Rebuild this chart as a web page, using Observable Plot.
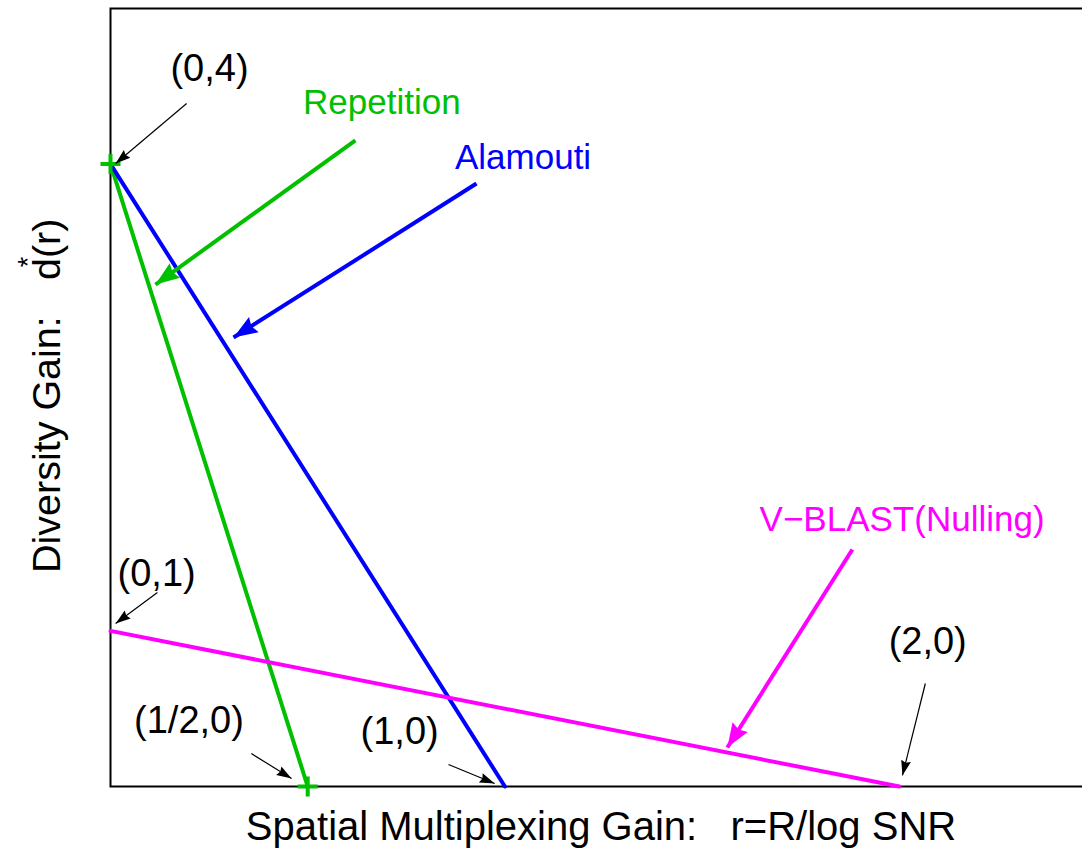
<!DOCTYPE html>
<html>
<head>
<meta charset="utf-8">
<script src="https://cdn.jsdelivr.net/npm/d3@7"></script>
<script src="https://cdn.jsdelivr.net/npm/@observablehq/plot@0.6"></script>
<style>
  html, body { margin: 0; padding: 0; background: #fff; overflow: hidden; }
  #chart svg { max-width: none !important; }
  svg text { white-space: pre; }
</style>
</head>
<body>
<div id="chart"></div>
<script>
// End points (r, d) of each diversity–multiplexing tradeoff curve
const repetitionR = [0, 0.5];
const repetitionD = [4, 0];
const alamoutiR = [0, 1];
const alamoutiD = [4, 0];
const vblastR = [0, 2];
const vblastD = [1, 0];

// Scheme names, colours, label anchors and pointer arrows (tail -> head), in (r, d)
const schemeNames = ["Repetition", "Alamouti", "V\u2212BLAST(Nulling)"];
const schemeColors = ["#00c000", "#0000ff", "#ff00ff"];
const schemeLabelR = [0.688, 1.046, 2.007];
const schemeLabelD = [4.393, 4.039, 1.716];
const schemeArrowR1 = [0.621, 0.928, 1.881];
const schemeArrowD1 = [4.152, 3.875, 1.523];
const schemeArrowR2 = [0.114, 0.312, 1.564];
const schemeArrowD2 = [3.226, 2.886, 0.251];

// Corner point callouts
const cornerLabels = ["(0,4)", "(0,1)", "(1/2,0)", "(1,0)", "(2,0)"];
const cornerLabelR = [0.251, 0.117, 0.199, 0.733, 2.072];
const cornerLabelD = [4.611, 1.369, 0.424, 0.350, 0.929];
const cornerArrowR1 = [0.193, 0.119, 0.357, 0.857, 2.066];
const cornerArrowD1 = [4.389, 1.247, 0.212, 0.141, 0.662];
const cornerArrowR2 = [0.013, 0.013, 0.459, 0.974, 2.008];
const cornerArrowD2 = [4.004, 1.048, 0.051, 0.019, 0.071];

const font = "'Liberation Sans', Arial, Helvetica, sans-serif";

const curves = [
  {r: repetitionR, d: repetitionD},
  {r: alamoutiR, d: alamoutiD},
  {r: vblastR, d: vblastD}
].map((c, i) => ({
  color: schemeColors[i],
  points: c.r.map((r, j) => ({r, d: c.d[j]}))
}));

const repetitionPoints = repetitionR.map((r, j) => ({r, d: repetitionD[j]}));

const schemeTable = schemeNames.map((name, i) => ({
  name, color: schemeColors[i],
  lr: schemeLabelR[i], ld: schemeLabelD[i],
  r1: schemeArrowR1[i], d1: schemeArrowD1[i],
  r2: schemeArrowR2[i], d2: schemeArrowD2[i]
}));

const cornerTable = cornerLabels.map((label, i) => ({
  label,
  lr: cornerLabelR[i], ld: cornerLabelD[i],
  r1: cornerArrowR1[i], d1: cornerArrowD1[i],
  r2: cornerArrowR2[i], d2: cornerArrowD2[i]
}));

// Filled triangular arrowhead, tip at the end of the path
function filledHead(len, wid) {
  return (color, context) => {
    const doc = (context && context.document) || document;
    const ns = "http://www.w3.org/2000/svg";
    const m = doc.createElementNS(ns, "marker");
    m.setAttribute("viewBox", `${-len} ${-wid / 2} ${len} ${wid}`);
    m.setAttribute("markerUnits", "userSpaceOnUse");
    m.setAttribute("markerWidth", len);
    m.setAttribute("markerHeight", wid);
    m.setAttribute("refX", 0);
    m.setAttribute("refY", 0);
    m.setAttribute("orient", "auto");
    m.setAttribute("overflow", "visible");
    const p = doc.createElementNS(ns, "path");
    p.setAttribute("d", `M0,0L${-len},${-wid / 2}L${-len * 0.88},0L${-len},${wid / 2}Z`);
    p.setAttribute("fill", color);
    p.setAttribute("stroke", "none");
    m.appendChild(p);
    return m;
  };
}

const marks = [
  Plot.frame({stroke: "#000", strokeWidth: 2}),
  ...curves.map(c => Plot.line(c.points, {x: "r", y: "d", stroke: c.color, strokeWidth: 4})),
  Plot.dot(repetitionPoints, {x: "r", y: "d", symbol: "plus", r: 6.5, stroke: schemeColors[0], strokeWidth: 4}),
  ...schemeTable.map(s => Plot.link([s], {
    x1: "r1", y1: "d1", x2: "r2", y2: "d2",
    stroke: s.color, strokeWidth: 4, markerEnd: filledHead(24, 18)
  })),
  Plot.link(cornerTable, {
    x1: "r1", y1: "d1", x2: "r2", y2: "d2",
    stroke: "#000", strokeWidth: 1.2, markerEnd: filledHead(15, 10)
  }),
  ...schemeTable.map(s => Plot.text([s], {
    x: "lr", y: "ld", text: "name", fill: s.color, fontSize: 35, textAnchor: "middle"
  })),
  Plot.text(cornerTable, {
    x: "lr", y: "ld", text: "label", fill: "#000", fontSize: 38, textAnchor: "middle"
  })
];

const fig = Plot.plot({
  width: 1096,
  height: 853,
  marginLeft: 110,
  marginRight: 0,
  marginTop: 8,
  marginBottom: 67,
  x: {domain: [0, 2.5], axis: null},
  y: {domain: [0, 5], axis: null},
  style: {fontFamily: font, background: "#fff", overflow: "visible", maxWidth: "none"},
  marks
});

// Axis titles
const svg = d3.select(fig);
const xs = fig.scale("x");
const cx = (xs.apply(0) + xs.apply(2.5)) / 2 - 2;
svg.append("text")
  .attr("x", cx).attr("y", 840)
  .attr("text-anchor", "middle")
  .attr("font-family", font).attr("font-size", 40).attr("fill", "#000")
  .text("Spatial Multiplexing Gain:   r=R/log SNR");

const yl = svg.append("g")
  .attr("transform", "translate(60,573) rotate(-90)")
  .attr("font-family", font).attr("fill", "#000")
  .attr("text-anchor", "start");
yl.append("text").attr("x", 0).attr("y", 0).attr("font-size", 39.5)
  .attr("text-anchor", "start").text("Diversity Gain:");
yl.append("text").attr("x", 293).attr("y", 0).attr("font-size", 39.5)
  .attr("text-anchor", "start").text("d(r)");
yl.append("text").attr("x", 311).attr("y", -23).attr("font-size", 27)
  .attr("text-anchor", "middle").text("*");

document.getElementById("chart").appendChild(fig);
</script>
</body>
</html>
